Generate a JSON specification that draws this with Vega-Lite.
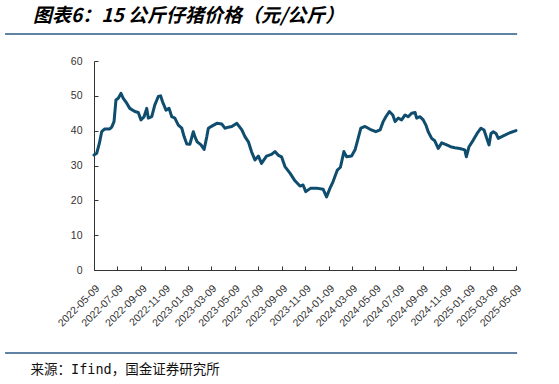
{
  "$schema": "https://vega.github.io/schema/vega-lite/v6.json",
  "width": 422,
  "height": 209,
  "autosize": {"type": "none"},
  "padding": {"left": 94, "top": 61, "right": 43, "bottom": 114},
  "background": "white",
  "config": {"view": {"stroke": null}},
  "title": {
    "text": "图表6：15 公斤仔猪价格（元/公斤）",
    "anchor": "start",
    "frame": "group",
    "dx": -61,
    "dy": 21,
    "offset": 9,
    "baseline": "bottom",
    "font": "Noto Sans CJK SC",
    "fontSize": 19,
    "fontWeight": "bold",
    "fontStyle": "italic",
    "color": "#000000"
  },
  "encoding": {
    "x": {
      "field": "date",
      "type": "temporal",
      "scale": {"domain": ["2022-05-09", "2025-05-09"]},
      "axis": {
        "values": ["2022-05-09", "2022-07-09", "2022-09-09", "2022-11-09", "2023-01-09", "2023-03-09", "2023-05-09", "2023-07-09", "2023-09-09", "2023-11-09", "2024-01-09", "2024-03-09", "2024-05-09", "2024-07-09", "2024-09-09", "2024-11-09", "2025-01-09", "2025-03-09", "2025-05-09"],
        "format": "%Y-%m-%d",
        "labelAngle": -45,
        "labelAlign": "right",
        "labelBaseline": "top",
        "labelFont": "Liberation Sans",
        "labelFontSize": 10.5,
        "labelColor": "#333333",
        "labelPadding": 17,
        "labelOverlap": false,
        "labelFlush": false,
        "grid": false,
        "domainColor": "#333333",
        "domainWidth": 1,
        "tickColor": "#333333",
        "tickSize": -4,
        "title": "来源：Ifind，国金证券研究所",
        "titleFont": "DejaVu Sans Mono, Noto Sans CJK SC",
        "titleFontSize": 13.5,
        "titleFontWeight": "normal",
        "titleColor": "#111111",
        "titleAlign": "left",
        "titleBaseline": "middle",
        "titleX": -64,
        "titleY": 99
      }
    },
    "y": {
      "field": "price",
      "type": "quantitative",
      "scale": {"domain": [0, 60]},
      "axis": {
        "values": [0, 10, 20, 30, 40, 50, 60],
        "title": null,
        "grid": false,
        "labelFont": "Liberation Sans",
        "labelFontSize": 10.5,
        "labelColor": "#333333",
        "labelPadding": 16,
        "labelOverlap": false,
        "domainColor": "#333333",
        "domainWidth": 1,
        "tickColor": "#333333",
        "tickSize": -4
      }
    }
  },
  "layer": [
    {
      "data": {"values": [
        {"date": "2022-05-09", "price": 33.0},
        {"date": "2022-05-16", "price": 33.5},
        {"date": "2022-05-23", "price": 36.4},
        {"date": "2022-05-29", "price": 39.7},
        {"date": "2022-06-06", "price": 40.5},
        {"date": "2022-06-19", "price": 40.5},
        {"date": "2022-06-24", "price": 41.0},
        {"date": "2022-06-30", "price": 42.6},
        {"date": "2022-07-05", "price": 48.8},
        {"date": "2022-07-11", "price": 49.3},
        {"date": "2022-07-18", "price": 50.7},
        {"date": "2022-07-24", "price": 49.3},
        {"date": "2022-08-02", "price": 47.9},
        {"date": "2022-08-10", "price": 46.4},
        {"date": "2022-08-23", "price": 45.5},
        {"date": "2022-09-01", "price": 45.2},
        {"date": "2022-09-08", "price": 43.1},
        {"date": "2022-09-16", "price": 44.0},
        {"date": "2022-09-23", "price": 46.4},
        {"date": "2022-09-27", "price": 43.6},
        {"date": "2022-10-06", "price": 44.0},
        {"date": "2022-10-14", "price": 47.4},
        {"date": "2022-10-23", "price": 49.8},
        {"date": "2022-10-29", "price": 50.0},
        {"date": "2022-11-03", "price": 48.3},
        {"date": "2022-11-12", "price": 45.9},
        {"date": "2022-11-20", "price": 46.4},
        {"date": "2022-11-27", "price": 44.0},
        {"date": "2022-12-05", "price": 43.6},
        {"date": "2022-12-14", "price": 41.6},
        {"date": "2022-12-23", "price": 40.7},
        {"date": "2022-12-29", "price": 38.3},
        {"date": "2023-01-05", "price": 36.2},
        {"date": "2023-01-13", "price": 36.1},
        {"date": "2023-01-22", "price": 39.7},
        {"date": "2023-01-26", "price": 38.3},
        {"date": "2023-02-01", "price": 36.8},
        {"date": "2023-02-11", "price": 35.9},
        {"date": "2023-02-19", "price": 34.6},
        {"date": "2023-02-26", "price": 38.3},
        {"date": "2023-03-02", "price": 40.7},
        {"date": "2023-03-11", "price": 41.3},
        {"date": "2023-03-24", "price": 42.1},
        {"date": "2023-04-06", "price": 41.9},
        {"date": "2023-04-14", "price": 40.7},
        {"date": "2023-04-23", "price": 41.0},
        {"date": "2023-05-02", "price": 41.2},
        {"date": "2023-05-15", "price": 42.1},
        {"date": "2023-05-28", "price": 40.2},
        {"date": "2023-06-05", "price": 38.3},
        {"date": "2023-06-14", "price": 36.8},
        {"date": "2023-06-22", "price": 34.0},
        {"date": "2023-07-01", "price": 31.6},
        {"date": "2023-07-10", "price": 32.7},
        {"date": "2023-07-18", "price": 30.6},
        {"date": "2023-07-31", "price": 32.7},
        {"date": "2023-08-13", "price": 33.2},
        {"date": "2023-08-22", "price": 34.0},
        {"date": "2023-08-30", "price": 33.0},
        {"date": "2023-09-08", "price": 32.5},
        {"date": "2023-09-17", "price": 29.7},
        {"date": "2023-09-30", "price": 27.8},
        {"date": "2023-10-13", "price": 25.6},
        {"date": "2023-10-26", "price": 24.1},
        {"date": "2023-11-03", "price": 24.4},
        {"date": "2023-11-10", "price": 22.5},
        {"date": "2023-11-23", "price": 23.5},
        {"date": "2023-12-08", "price": 23.5},
        {"date": "2023-12-25", "price": 23.2},
        {"date": "2024-01-03", "price": 21.0},
        {"date": "2024-01-12", "price": 23.5},
        {"date": "2024-01-20", "price": 25.4},
        {"date": "2024-01-31", "price": 28.7},
        {"date": "2024-02-08", "price": 29.5},
        {"date": "2024-02-17", "price": 34.0},
        {"date": "2024-02-24", "price": 32.5},
        {"date": "2024-03-08", "price": 32.7},
        {"date": "2024-03-17", "price": 34.5},
        {"date": "2024-03-25", "price": 37.8},
        {"date": "2024-04-01", "price": 40.7},
        {"date": "2024-04-12", "price": 41.2},
        {"date": "2024-04-25", "price": 40.4},
        {"date": "2024-05-10", "price": 39.7},
        {"date": "2024-05-21", "price": 40.2},
        {"date": "2024-05-29", "price": 42.6},
        {"date": "2024-06-05", "price": 44.0},
        {"date": "2024-06-14", "price": 45.5},
        {"date": "2024-06-23", "price": 44.5},
        {"date": "2024-06-29", "price": 42.6},
        {"date": "2024-07-07", "price": 43.6},
        {"date": "2024-07-16", "price": 43.1},
        {"date": "2024-07-25", "price": 44.5},
        {"date": "2024-08-02", "price": 44.0},
        {"date": "2024-08-11", "price": 45.0},
        {"date": "2024-08-20", "price": 45.2},
        {"date": "2024-08-24", "price": 43.6},
        {"date": "2024-09-02", "price": 44.0},
        {"date": "2024-09-10", "price": 43.1},
        {"date": "2024-09-17", "price": 41.6},
        {"date": "2024-09-23", "price": 39.7},
        {"date": "2024-10-02", "price": 37.8},
        {"date": "2024-10-10", "price": 37.1},
        {"date": "2024-10-19", "price": 34.9},
        {"date": "2024-10-28", "price": 36.5},
        {"date": "2024-11-10", "price": 35.9},
        {"date": "2024-11-20", "price": 35.4},
        {"date": "2024-12-01", "price": 35.1},
        {"date": "2024-12-14", "price": 34.9},
        {"date": "2024-12-27", "price": 34.5},
        {"date": "2024-12-31", "price": 32.5},
        {"date": "2025-01-07", "price": 35.4},
        {"date": "2025-01-18", "price": 37.3},
        {"date": "2025-01-28", "price": 39.2},
        {"date": "2025-02-07", "price": 40.7},
        {"date": "2025-02-15", "price": 40.2},
        {"date": "2025-02-22", "price": 37.8},
        {"date": "2025-02-28", "price": 35.9},
        {"date": "2025-03-05", "price": 39.2},
        {"date": "2025-03-11", "price": 39.7},
        {"date": "2025-03-18", "price": 39.2},
        {"date": "2025-03-24", "price": 37.8},
        {"date": "2025-04-06", "price": 38.5},
        {"date": "2025-04-23", "price": 39.4},
        {"date": "2025-05-09", "price": 40.0}
      ]},
      "mark": {"type": "line", "color": "#0E4D6E", "strokeWidth": 3, "strokeJoin": "round", "strokeCap": "round"}
    },
    {
      "data": {"values": [
        {"date": "2021-09-20", "date2": "2025-05-12", "price": 67.75},
        {"date": "2021-09-20", "date2": "2025-05-12", "price": -23.83}
      ]},
      "mark": {"type": "rule", "color": "#2B5A84", "strokeWidth": 1.5, "clip": false},
      "encoding": {
        "x2": {"field": "date2"}
      }
    }
  ]
}
